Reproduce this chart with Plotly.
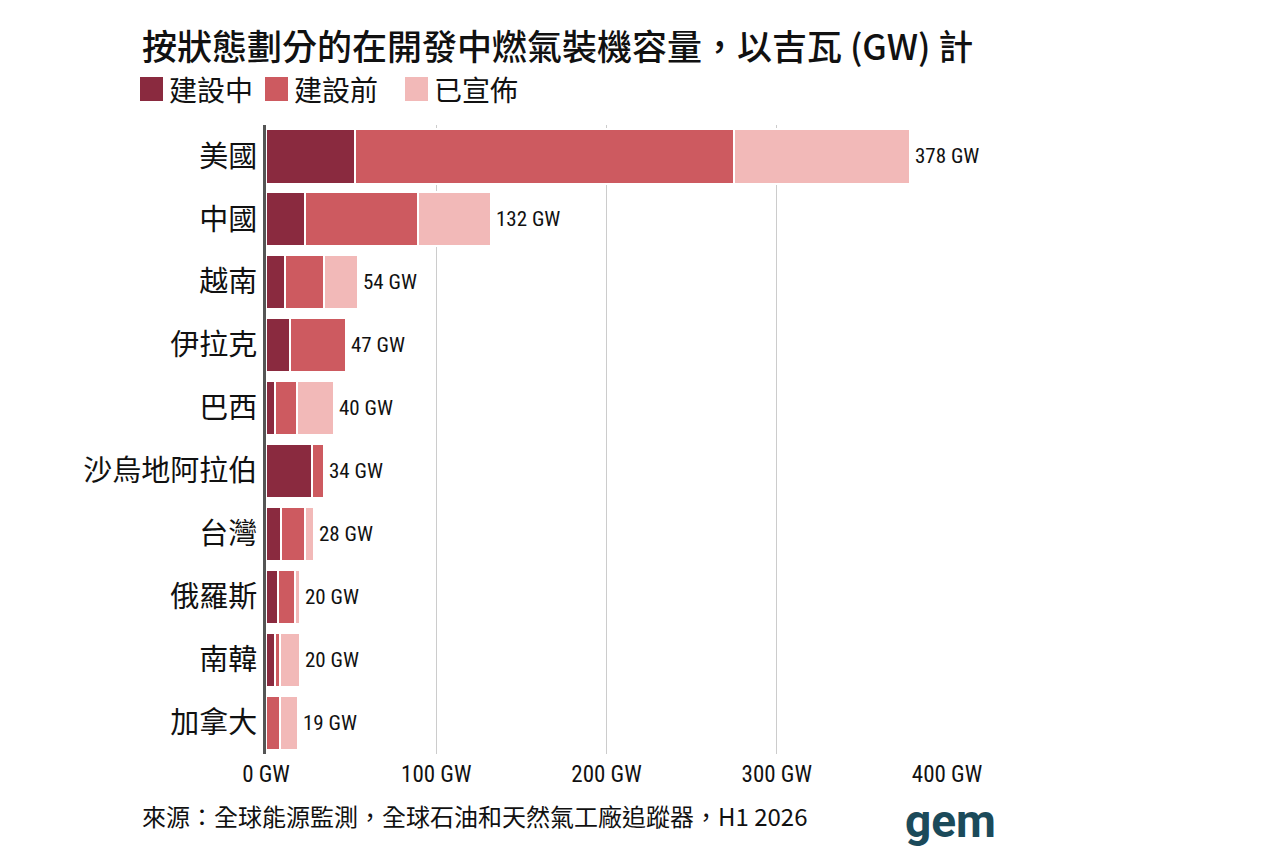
import plotly.graph_objects as go

countries = ["美國", "中國", "越南", "伊拉克", "巴西", "沙烏地阿拉伯", "台灣", "俄羅斯", "南韓", "加拿大"]
construction = [52, 23, 11, 14, 5, 27, 9, 7, 5, 0]
pre_construction = [223, 66, 23, 33, 13, 7, 14, 10, 3, 8]
announced = [103, 43, 20, 0, 22, 0, 5, 3, 12, 11]
totals = [378, 132, 54, 47, 40, 34, 28, 20, 20, 19]
series_names = ["建設中", "建設前", "已宣佈"]
colors = ["#8a2a3f", "#cd5a60", "#f2b9b8"]
tick_vals = [0, 100, 200, 300, 400]
tick_text = ["0 GW", "100 GW", "200 GW", "300 GW", "400 GW"]

CJK = "Noto Sans CJK TC, Noto Sans CJK SC, sans-serif"
NARROW = "Liberation Sans Narrow, Roboto Condensed, Roboto, sans-serif"

# page offset (browser body margin)
OFF = 8
W, H = 1264 - OFF, 848 - OFF
L, R, T, B = 266 - OFF, 1264 - 947, 125 - OFF, 848 - 754
pw = W - L - R
ph = H - T - B


def px(x):
    return (x - OFF - L) / pw


def py(y):
    return 1 - (y - OFF - T) / ph


fig = go.Figure()
for name, vals, col in zip(series_names, [construction, pre_construction, announced], colors):
    fig.add_trace(go.Bar(
        y=countries, x=vals, name=name, orientation="h",
        marker=dict(color=col, line=dict(color="white", width=2)),
        showlegend=False, hoverinfo="x+y+name",
    ))

for c, t in zip(countries, totals):
    fig.add_annotation(x=t, y=c, xref="x", yref="y", text=f"{t} GW", showarrow=False,
                       xanchor="left", xshift=3, font=dict(family=NARROW, size=21, color="#111"))

fig.add_annotation(x=px(140), y=py(45), xref="paper", yref="paper",
                   text="按狀態劃分的在開發中燃氣裝機容量，以吉瓦 (GW) 計",
                   showarrow=False, xanchor="left", yanchor="middle",
                   font=dict(family=CJK, size=35, color="#111", weight=500))

leg_items = [(140, "建設中"), (265, "建設前"), (405, "已宣佈")]
shapes = []
for (lx, txt), col in zip(leg_items, colors):
    shapes.append(dict(type="rect", xref="paper", yref="paper", x0=px(lx), x1=px(lx + 23),
                       y0=py(101), y1=py(77), fillcolor=col, line=dict(width=0)))
    fig.add_annotation(x=px(lx + 27), y=py(89), xref="paper", yref="paper", text=txt, showarrow=False,
                       xanchor="left", yanchor="middle", font=dict(family=CJK, size=28, color="#111"))

fig.add_annotation(x=px(140), y=py(815), xref="paper", yref="paper",
                   text="來源：全球能源監測，全球石油和天然氣工廠追蹤器，H1 2026", showarrow=False,
                   xanchor="left", yanchor="middle", font=dict(family=CJK, size=24, color="#111"))
fig.add_annotation(x=px(950), y=py(821), xref="paper", yref="paper", text="<b>gem</b>", showarrow=False,
                   xanchor="center", yanchor="middle",
                   font=dict(family="Roboto, DejaVu Sans, sans-serif", size=46, color="#1b4a5a"))

fig.update_layout(
    width=W, height=H,
    margin=dict(l=L, r=R, t=T, b=B),
    plot_bgcolor="white", paper_bgcolor="white",
    barmode="stack", bargap=0.14,
    shapes=shapes,
    xaxis=dict(range=[0, 400], tickvals=tick_vals, ticktext=tick_text,
               showgrid=True, gridcolor="#cccccc", gridwidth=1, zeroline=False,
               tickfont=dict(family=NARROW, size=23, color="#111"), ticks="", ticklabelstandoff=4,
               fixedrange=True),
    yaxis=dict(autorange="reversed", showline=True, linecolor="#555555", linewidth=3,
               tickfont=dict(family=CJK, size=29, color="#111"), ticks="", ticklabelstandoff=0),
)

fig.write_html("out.html")
